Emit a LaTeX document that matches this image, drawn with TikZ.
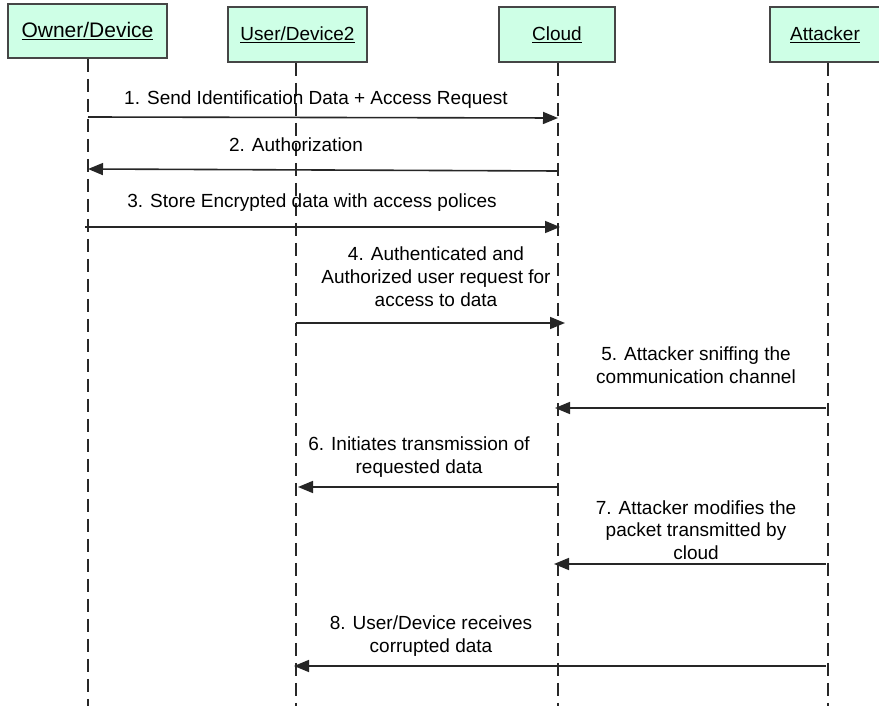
\documentclass[tikz,border=0pt]{standalone}
\usepackage{fontspec}
\setmainfont{Liberation Sans}
\usetikzlibrary{arrows.meta}
\definecolor{boxfill}{RGB}{206,255,230}
\definecolor{boxline}{RGB}{70,70,70}
\definecolor{lifeline}{RGB}{40,40,40}
\tikzset{
  actor/.style={draw=boxline, line width=1.8pt, fill=boxfill, inner sep=0pt,
    font=\fontsize{19}{23}\selectfont},
  life/.style={draw=lifeline, line width=1.5pt, dash pattern=on 13pt off 7pt},
  msg/.style={draw=black!85, line width=1.6pt,
    -{Triangle[length=15pt,width=12pt]}},
  lbl/.style={align=center, inner sep=0pt, font=\fontsize{19}{23}\selectfont}
}
\begin{document}
\begin{tikzpicture}[x=1pt,y=1pt]
\useasboundingbox (0,0) rectangle (879,-706);
\fill[white] (0,0) rectangle (879,-706);

% participants
\node[actor, minimum width=159pt, minimum height=54pt, font=\fontsize{21}{25}\selectfont] (owner) at (87.5,-31) {\underline{Owner/Device}};
\node[actor, minimum width=139pt, minimum height=55pt] (user) at (297.5,-34.5) {\underline{User/Device2}};
\node[actor, minimum width=116pt, minimum height=55pt] (cloud) at (557,-34.5) {\underline{Cloud}};
\node[actor, minimum width=110pt, minimum height=55pt] (attacker) at (825,-34.5) {\underline{Attacker}};

% lifeline ends
\coordinate (ownerEnd) at (88,-706);
\coordinate (userEnd) at (296,-706);
\coordinate (cloudEnd) at (558,-706);
\coordinate (attackerEnd) at (828,-706);

\path[life] (owner.south -| ownerEnd) -- (ownerEnd);
\path[life] (user.south -| userEnd) -- (userEnd);
\path[life] (cloud.south -| cloudEnd) -- (cloudEnd);
\path[life] (attacker.south -| attackerEnd) -- (attackerEnd);

% message end points
\coordinate (m1a) at (88,-117);  \coordinate (m1b) at (558,-118);
\coordinate (m2a) at (558,-171); \coordinate (m2b) at (88,-169);
\coordinate (m3a) at (85,-227);  \coordinate (m3b) at (560,-227);
\coordinate (m4a) at (296,-323); \coordinate (m4b) at (565,-323);
\coordinate (m5a) at (826,-408); \coordinate (m5b) at (555,-408);
\coordinate (m6a) at (558,-487); \coordinate (m6b) at (298,-487);
\coordinate (m7a) at (826,-564); \coordinate (m7b) at (554,-564);
\coordinate (m8a) at (826,-666); \coordinate (m8b) at (294,-666);

\path[msg] (m1a) -- (m1b);
\path[msg] (m2a) -- (m2b);
\path[msg] (m3a) -- (m3b);
\path[msg] (m4a) -- (m4b);
\path[msg] (m5a) -- (m5b);
\path[msg] (m6a) -- (m6b);
\path[msg] (m7a) -- (m7b);
\path[msg] (m8a) -- (m8b);

% message labels
\node[lbl] (l1) at (316,-100) {1. Send Identification Data + Access Request};
\node[lbl] (l2) at (296,-145) {2. Authorization};
\node[lbl] (l3) at (312,-203) {3. Store Encrypted data with access polices};
\node[lbl] (l4) at (436,-277) {4. Authenticated and\\Authorized user request for\\access to data};
\node[lbl] (l5) at (696,-365) {5. Attacker sniffing the\\communication channel};
\node[lbl] (l6) at (419,-457) {6. Initiates transmission of\\requested data};
\node[lbl, font=\fontsize{19}{22.5}\selectfont] (l7) at (696,-530) {7. Attacker modifies the\\packet transmitted by\\cloud};
\node[lbl] (l8) at (431,-636) {8. User/Device receives\\corrupted data};
\end{tikzpicture}
\end{document}
